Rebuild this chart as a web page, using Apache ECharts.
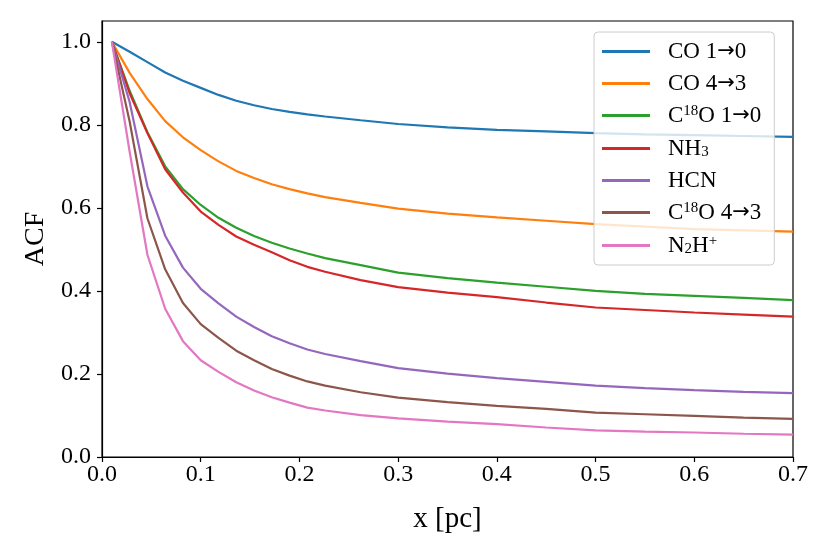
<!DOCTYPE html>
<html>
<head>
<meta charset="utf-8">
<script src="https://cdn.jsdelivr.net/npm/echarts@6/dist/echarts.min.js"></script>
<style>
  html, body { margin: 0; padding: 0; background: #fff; }
  #chart { width: 830px; height: 554px; }
</style>
</head>
<body>
<div id="chart"></div>
<script>
// lag in pc
const xs = [0.01, 0.028, 0.046, 0.064, 0.082, 0.1, 0.118, 0.136, 0.154, 0.172, 0.19, 0.208,
            0.226, 0.262, 0.3, 0.35, 0.4, 0.45, 0.5, 0.55, 0.6, 0.65, 0.7];

const co10   = [1.0, 0.976, 0.951, 0.926, 0.906, 0.889, 0.872, 0.858, 0.847, 0.838, 0.831, 0.825,
                0.820, 0.811, 0.802, 0.794, 0.788, 0.784, 0.780, 0.777, 0.775, 0.773, 0.771];
const co43   = [1.0, 0.925, 0.862, 0.809, 0.770, 0.739, 0.712, 0.689, 0.672, 0.657, 0.645, 0.635,
                0.626, 0.612, 0.598, 0.586, 0.577, 0.569, 0.561, 0.555, 0.549, 0.546, 0.543];
const c18o10 = [1.0, 0.882, 0.782, 0.700, 0.645, 0.607, 0.576, 0.552, 0.532, 0.516, 0.502, 0.490,
                0.479, 0.462, 0.444, 0.431, 0.420, 0.410, 0.400, 0.393, 0.388, 0.383, 0.378];
const nh3    = [1.0, 0.876, 0.780, 0.693, 0.637, 0.591, 0.559, 0.531, 0.511, 0.493, 0.474, 0.458,
                0.446, 0.426, 0.409, 0.396, 0.385, 0.372, 0.360, 0.354, 0.348, 0.343, 0.338];
const hcn    = [1.0, 0.855, 0.652, 0.533, 0.456, 0.405, 0.370, 0.338, 0.313, 0.291, 0.274, 0.259,
                0.248, 0.231, 0.214, 0.201, 0.190, 0.181, 0.172, 0.166, 0.161, 0.157, 0.154];
const c18o43 = [1.0, 0.808, 0.575, 0.452, 0.371, 0.320, 0.287, 0.256, 0.233, 0.212, 0.196, 0.182,
                0.172, 0.156, 0.143, 0.132, 0.123, 0.116, 0.107, 0.103, 0.099, 0.095, 0.092];
const n2hp   = [1.0, 0.735, 0.487, 0.357, 0.279, 0.233, 0.205, 0.180, 0.160, 0.144, 0.131, 0.119,
                0.112, 0.101, 0.093, 0.085, 0.079, 0.071, 0.064, 0.061, 0.059, 0.056, 0.054];

const names  = ['CO 1→0', 'CO 4→3', 'C18O 1→0', 'NH3', 'HCN', 'C18O 4→3', 'N2H+'];
const labels = ['CO 1{arr|→}0', 'CO 4{arr|→}3', 'C{sup|18}O 1{arr|→}0', 'NH{sub|3}', 'HCN',
                'C{sup|18}O 4{arr|→}3', 'N{sub|2}H{sup|+}'];
const values = [co10, co43, c18o10, nh3, hcn, c18o43, n2hp];
const colors = ['#1f77b4', '#ff7f0e', '#2ca02c', '#d62728', '#9467bd', '#8c564b', '#e377c2'];

const xTicks = ['0.0', '0.1', '0.2', '0.3', '0.4', '0.5', '0.6', '0.7'];
const yTicks = ['0.0', '0.2', '0.4', '0.6', '0.8', '1.0'];

const font = 'Liberation Serif';

let myChart = echarts.init(document.getElementById('chart'));

let series = values.map(function (v, i) {
    return {
        name: names[i],
        type: 'line',
        data: xs.map(function (x, j) { return [x, v[j]]; }),
        showSymbol: false,
        symbol: 'none',
        color: colors[i],
        lineStyle: { width: 2.2, color: colors[i] },
        animation: false
    };
});

myChart.setOption({
    animation: false,
    grid: {
        left: 102, right: 37, top: 21, bottom: 97,
        show: true, borderColor: '#000', borderWidth: 1.2
    },
    xAxis: {
        type: 'value',
        min: 0, max: 0.7, interval: 0.1,
        name: 'x [pc]',
        nameLocation: 'middle',
        nameGap: 48,
        nameTextStyle: { fontFamily: font, fontSize: 29, color: '#000' },
        axisLine: { show: true, lineStyle: { color: '#000', width: 1.2 } },
        axisTick: { show: true, inside: false, length: 5, lineStyle: { color: '#000', width: 1.2 } },
        axisLabel: {
            margin: 6, fontFamily: font, fontSize: 24, color: '#000',
            formatter: function (v) { return xTicks[Math.round(v * 10)]; }
        },
        splitLine: { show: false }
    },
    yAxis: {
        type: 'value',
        min: 0, max: 1.05, interval: 0.2,
        name: 'ACF',
        nameLocation: 'middle',
        nameGap: 50,
        nameRotate: 90,
        nameTextStyle: { fontFamily: font, fontSize: 28, color: '#000' },
        axisLine: { show: true, lineStyle: { color: '#000', width: 1.2 } },
        axisTick: { show: true, inside: false, length: 5, lineStyle: { color: '#000', width: 1.2 } },
        axisLabel: {
            margin: 11, fontFamily: font, fontSize: 24, color: '#000', showMaxLabel: false,
            formatter: function (v) {
                let k = Math.round(v * 5);
                return Math.abs(v * 5 - k) < 1e-6 ? yTicks[k] : '';
            }
        },
        splitLine: { show: false }
    },
    legend: {
        orient: 'vertical',
        left: 594, top: 32,
        padding: [8, 13, 8, 8],
        itemGap: 9,
        itemWidth: 48,
        itemHeight: 3,
        icon: 'rect',
        backgroundColor: 'rgba(255,255,255,0.8)',
        borderColor: '#cccccc',
        borderWidth: 1,
        borderRadius: 4,
        data: names,
        formatter: function (name) { return labels[names.indexOf(name)]; },
        textStyle: {
            fontFamily: font, fontSize: 23, color: '#000', lineHeight: 23,
            padding: [0, 0, 0, 13],
            rich: {
                arr: { fontFamily: 'DejaVu Sans', fontSize: 21, color: '#000', lineHeight: 23 },
                sup: { fontFamily: font, fontSize: 15, color: '#000', verticalAlign: 'top', lineHeight: 23, padding: [0, 0, 8, 0] },
                sub: { fontFamily: font, fontSize: 15, color: '#000', verticalAlign: 'bottom', lineHeight: 23, padding: [9, 0, 0, 0] }
            }
        }
    },
    series: series
});
</script>
</body>
</html>
